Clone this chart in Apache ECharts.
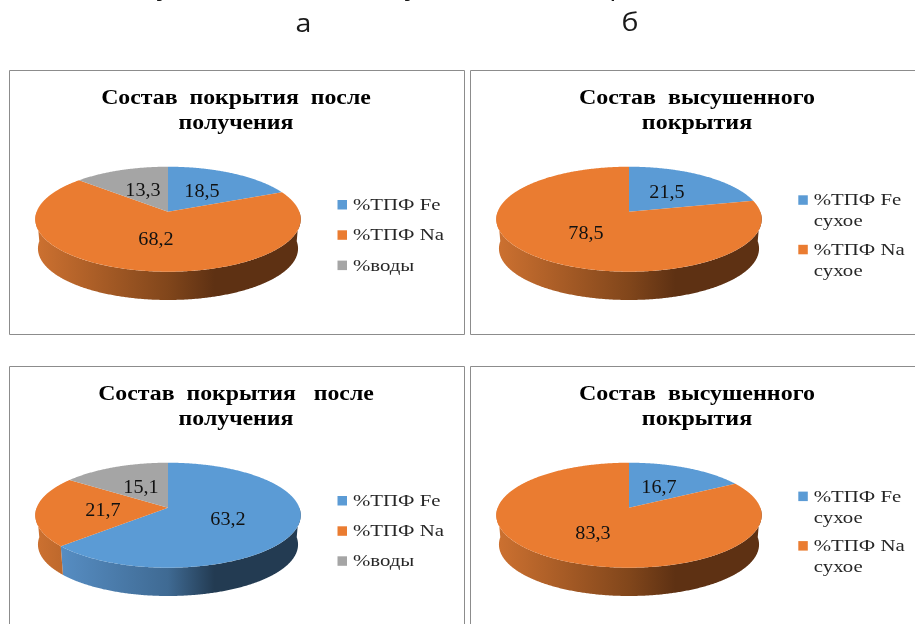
<!DOCTYPE html>
<html>
<head>
<meta charset="utf-8">
<style>html,body{margin:0;padding:0;background:#fff}#chart{width:915px;height:624px}</style>
<script src="https://cdn.jsdelivr.net/npm/echarts@6/dist/echarts.min.js"></script>
</head>
<body>
<div id="chart"></div>
<script>
// Composition of the coating, percent
const freshCategories = ['%ТПФ Fe', '%ТПФ Na', '%воды'];
const driedCategories = ['%ТПФ Fe\nсухое', '%ТПФ Na\nсухое'];
const freshValuesA = [18.5, 68.2, 13.3];
const driedValuesA = [21.5, 78.5];
const freshValuesB = [63.2, 21.7, 15.1];
const driedValuesB = [16.7, 83.3];
const freshTitleA = 'Состав  покрытия  после\nполучения';
const freshTitleB = 'Состав  покрытия   после\nполучения';
const driedTitle = 'Состав  высушенного\nпокрытия';
const columnLetters = ['а', 'б'];
const captionTails = ['у', 'у', 'р'];

// Slice palettes: top face, then the wall gradient from left to right
const palette = [
  { top: '#5b9bd5', wall: ['#5b94cc', '#3f6a93', '#233b52'] },
  { top: '#ea7c31', wall: ['#cb7030', '#81461b', '#5e3113'] },
  { top: '#a5a5a5', wall: ['#8c8c8c', '#5c5c5c', '#3e3e3e'] }
];

// Tilted disc: far edge is squeezed by the perspective factor
const RX = 132.7, PERSPECTIVE = 1 / 7, FLAT = 51.43, DEPTH = 29.5, BASE_SCALE = 0.98;
const SERIF = '"Liberation Serif", serif';

const panels = [
  { frame: [9.5, 70.5, 455, 264], cx: 168, cy: 211.7, titleX: 236, titleY: [98.5, 123.5], title: freshTitleA, titleScale: 1.19,
    values: freshValuesA, names: freshCategories, legendX: 337.5, legendY: [204.7, 235, 265.3],
    labelOffsets: [[34, -19], [-12, 29], [-25, -20]] },
  { frame: [470.5, 70.5, 460, 264], cx: 629, cy: 211.7, titleX: 697, titleY: [98.5, 123.5], title: driedTitle, titleScale: 1.2,
    values: driedValuesA, names: driedCategories, legendX: 798.3, legendY: [200, 249.5],
    labelOffsets: [[38, -18], [-43, 23]] },
  { frame: [9.5, 366.5, 455, 280], cx: 168, cy: 507.7, titleX: 236, titleY: [394.5, 419.5], title: freshTitleB, titleScale: 1.19,
    values: freshValuesB, names: freshCategories, legendX: 337.5, legendY: [500.7, 531, 561],
    labelOffsets: [[60, 13], [-65, 4], [-27, -19]] },
  { frame: [470.5, 366.5, 460, 280], cx: 629, cy: 507.7, titleX: 697, titleY: [394.5, 419.5], title: driedTitle, titleScale: 1.2,
    values: driedValuesB, names: driedCategories, legendX: 798.3, legendY: [496.3, 545.8],
    labelOffsets: [[30, -19], [-36, 27]] }
];

// Maps a clockwise angle from north onto the tilted disc
function project(panel, angle, scale, drop) {
  const u = Math.sin(angle), v = Math.cos(angle);
  const w = 1 + PERSPECTIVE * v;
  const a = RX * Math.sqrt(1 - PERSPECTIVE * PERSPECTIVE) * scale;
  return [panel.cx + a * u / w, panel.cy + drop - FLAT * scale * v / w];
}

function arcPoints(panel, from, to, scale, drop) {
  const pts = [];
  const steps = Math.max(2, Math.ceil((to - from) / (Math.PI / 360)));
  for (let i = 0; i <= steps; i++) {
    pts.push(project(panel, from + (to - from) * i / steps, scale, drop));
  }
  return pts;
}

function sliceRenderer(panel) {
  const total = panel.values.reduce((s, v) => s + v, 0);
  return function (params, api) {
    const i = params.dataIndex;
    const before = panel.values.slice(0, i).reduce((s, v) => s + v, 0);
    const value = api.value(0);
    const start = before / total * Math.PI * 2;
    const end = (before + value) / total * Math.PI * 2;
    const colors = palette[i];
    const children = [];

    // The wall is visible only on the near half of the rim
    const wallFrom = Math.max(start, Math.PI / 2);
    const wallTo = Math.min(end, Math.PI * 1.5);
    if (wallTo > wallFrom) {
      const upper = arcPoints(panel, wallFrom, wallTo, 1, 0);
      const lower = arcPoints(panel, wallFrom, wallTo, BASE_SCALE, DEPTH).reverse();
      children.push({
        type: 'polygon', z2: 1,
        shape: { points: upper.concat(lower) },
        style: {
          fill: {
            type: 'linear', global: true,
            x: panel.cx - 129, y: 0, x2: panel.cx + 129, y2: 0,
            colorStops: [
              { offset: 0, color: colors.wall[0] },
              { offset: 0.5, color: colors.wall[1] },
              { offset: 0.68, color: colors.wall[2] },
              { offset: 1, color: colors.wall[2] }
            ]
          }
        }
      });
    }

    children.push({
      type: 'polygon', z2: 2,
      shape: { points: [[panel.cx, panel.cy]].concat(arcPoints(panel, start, end, 1, 0)) },
      style: { fill: colors.top }
    });

    const off = panel.labelOffsets[i];
    children.push({
      type: 'text', z2: 3,
      x: panel.cx + off[0], y: panel.cy + off[1], scaleX: 1.12,
      style: {
        text: String(value).replace('.', ','),
        font: '18px ' + SERIF, fill: '#111',
        align: 'center', verticalAlign: 'middle'
      }
    });
    return { type: 'group', children };
  };
}

const graphics = [];
const textAt = (x, y, text, font, scaleX, align, fill) => graphics.push({
  type: 'text', x, y, scaleX, z: 5,
  style: { text, font, fill, align, verticalAlign: 'middle' }
});

// Column letters and the foot of the caption line above them
const SANS = '26px "Open Sans", sans-serif';
textAt(303.5, 25, columnLetters[0], SANS, 1.1, 'center', '#1a1a1a');
textAt(630, 24, columnLetters[1], SANS, 1.1, 'center', '#1a1a1a');
[164, 412, 618].forEach((x, i) => textAt(x, -12, captionTails[i], SANS, 1.1, 'center', '#1a1a1a'));

panels.forEach((p) => {
  graphics.push({
    type: 'rect', z: 0,
    shape: { x: p.frame[0], y: p.frame[1], width: p.frame[2], height: p.frame[3] },
    style: { fill: '#fff', stroke: '#8c8c8c', lineWidth: 1 }
  });
  p.title.split('\n').forEach((line, k) => {
    textAt(p.titleX, p.titleY[k], line, 'bold 20px ' + SERIF, p.titleScale, 'center', '#000');
  });
  p.names.forEach((name, i) => {
    const y = p.legendY[i];
    graphics.push({
      type: 'rect', z: 5,
      shape: { x: p.legendX, y: y - 4.7, width: 9.5, height: 9.5 },
      style: { fill: palette[i].top }
    });
    name.split('\n').forEach((line, k) => {
      textAt(p.legendX + 15.5, y + 1 + k * 21, line, '16.5px ' + SERIF, 1.26, 'left', '#262626');
    });
  });
});

const chart = echarts.init(document.getElementById('chart'), null, { renderer: 'canvas' });
chart.setOption({
  animation: false,
  backgroundColor: '#fff',
  graphic: { elements: graphics },
  series: panels.map((p) => ({
    type: 'custom',
    name: p.title.replace('\n', ' '),
    coordinateSystem: 'none',
    z: 3,
    silent: true,
    renderItem: sliceRenderer(p),
    data: p.values.map((v, i) => ({ name: p.names[i], value: [v] }))
  }))
});
</script>
</body>
</html>
